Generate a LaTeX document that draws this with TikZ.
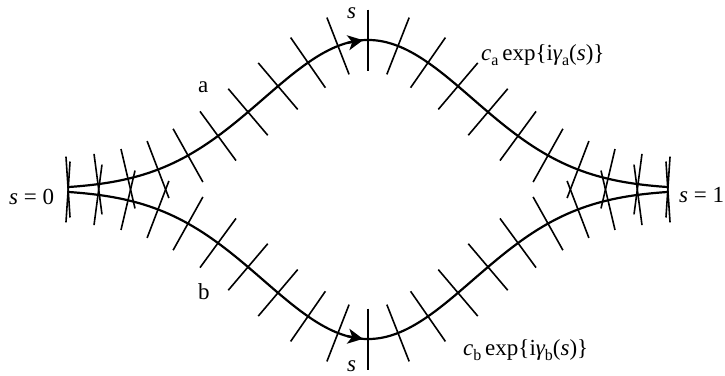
\documentclass[tikz,border=0pt]{standalone}
\usepackage{fontspec}
\setmainfont{Liberation Serif}
\usetikzlibrary{arrows.meta}
\newcommand\sbx[1]{\raisebox{-0.24em}{\fontsize{16}{16}\selectfont #1}}
\begin{document}
\begin{tikzpicture}[x=1pt,y=-1pt,
  curve/.style={line width=2.2pt},
  tick/.style={line width=1.6pt},
  lbl/.style={anchor=base west,inner sep=0pt,font=\fontsize{23}{27}\selectfont},
  arr/.style={line width=2.2pt,-{Stealth[length=15pt,width=15pt,inset=4pt]}}]
\useasboundingbox (0,0) rectangle (725,375);
% curves
\draw[curve] plot[domain=68:668,samples=201,smooth]
  (\x,{189.5-149.5*exp(-((\x-368)/148)*((\x-368)/148))});
\draw[curve] plot[domain=68:668,samples=201,smooth]
  (\x,{189.5+149.5*exp(-((\x-368)/148)*((\x-368)/148))});
% ticks
\foreach \k in {0,...,20}{
  \pgfmathsetmacro\xx{68+30*\k}
  \pgfmathsetmacro\dd{(\xx-368)/148}
  \pgfmathsetmacro\ee{149.5*exp(-\dd*\dd)}
  \pgfmathsetmacro\sl{2*\ee*\dd/148}
  \pgfmathsetmacro\nn{sqrt(1+\sl*\sl)}
  \pgfmathsetmacro\nx{\sl/\nn*30.5}
  \pgfmathsetmacro\ny{30.5/\nn}
  \pgfmathsetmacro\yu{189.5-\ee}
  \pgfmathsetmacro\yl{189.5+\ee}
  \coordinate (ua\k) at ({\xx+\nx},{\yu-\ny});
  \coordinate (ub\k) at ({\xx-\nx},{\yu+\ny});
  \coordinate (la\k) at ({\xx-\nx},{\yl-\ny});
  \coordinate (lb\k) at ({\xx+\nx},{\yl+\ny});
  \draw[tick] (ua\k) -- (ub\k);
  \draw[tick] (la\k) -- (lb\k);
}
% arrows
\coordinate (atail) at (347,{189.5-149.5*exp(-(21/148)*(21/148))});
\coordinate (ahead) at (363,{189.5-149.5*exp(-(5/148)*(5/148))});
\coordinate (btail) at (347,{189.5+149.5*exp(-(21/148)*(21/148))});
\coordinate (bhead) at (363,{189.5+149.5*exp(-(5/148)*(5/148))});
\draw[arr] (atail) -- (ahead);
\draw[arr] (btail) -- (bhead);
% labels
\node[lbl] (s0) at (9,204) {\itshape s\upshape\ = 0};
\node[lbl] (s1) at (679,202) {\itshape s\upshape\ = 1};
\node[lbl] (stop) at (347,18) {\itshape s};
\node[lbl] (sbot) at (347,371.5) {\itshape s};
\node[lbl] (la) at (198,92) {a};
\node[lbl] (lb) at (198,299) {b};
\node[lbl] (ca) at (481,60) {\itshape c\upshape\sbx{a}\,exp\{i\itshape γ\upshape\sbx{a}(\itshape s\upshape)\}};
\node[lbl] (cb) at (463,355) {\itshape c\upshape\sbx{b}\,exp\{i\itshape γ\upshape\sbx{b}(\itshape s\upshape)\}};
\end{tikzpicture}
\end{document}
